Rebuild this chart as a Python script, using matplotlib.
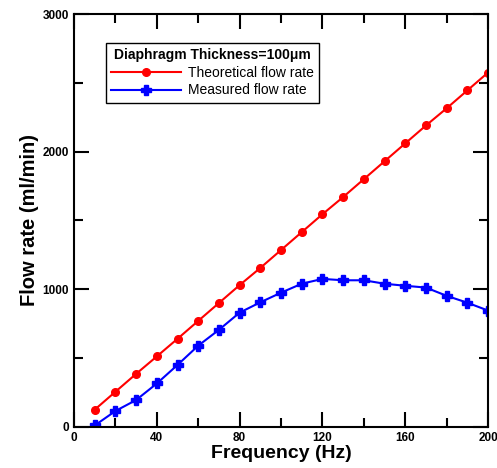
import matplotlib.pyplot as plt
from matplotlib.ticker import MultipleLocator

plt.rcParams['font.family'] = ['Liberation Sans', 'DejaVu Sans']

# data
freq = [10, 20, 30, 40, 50, 60, 70, 80, 90, 100,
        110, 120, 130, 140, 150, 160, 170, 180, 190, 200]
theoretical = [125, 255, 385, 512, 640, 770, 900, 1030, 1155, 1285,
               1415, 1545, 1670, 1800, 1930, 2060, 2190, 2315, 2445, 2575]
measured = [10, 115, 195, 315, 450, 590, 705, 830, 905, 975,
            1040, 1075, 1065, 1065, 1040, 1025, 1012, 952, 902, 845]

fig = plt.figure(figsize=(4.97, 4.68), dpi=100)
ax = fig.add_axes([0.149, 0.088, 0.833, 0.882])

ax.plot(freq, theoretical, color='red', marker='o', markersize=5.5,
        linewidth=1.5, label='Theoretical flow rate')
ax.plot(freq, measured, color='blue', marker='P', markersize=6.5,
        linewidth=1.5, label='Measured flow rate')

ax.set_xlim(0, 200)
ax.set_ylim(0, 3000)
ax.xaxis.set_major_locator(MultipleLocator(40))
ax.xaxis.set_minor_locator(MultipleLocator(20))
ax.yaxis.set_major_locator(MultipleLocator(1000))
ax.yaxis.set_minor_locator(MultipleLocator(500))
ax.tick_params(which='both', direction='in', top=True, right=True, width=1.5)
ax.tick_params(which='major', length=11, labelsize=8.5)
ax.tick_params(which='minor', length=6.5)
for lbl in ax.get_xticklabels() + ax.get_yticklabels():
    lbl.set_fontweight('bold')
for sp in ax.spines.values():
    sp.set_linewidth(1.5)

ax.set_xlabel('Frequency (Hz)', fontsize=14, fontweight='bold', labelpad=1)
ax.set_ylabel('Flow rate (ml/min)', fontsize=14.5, fontweight='bold', labelpad=3)

leg = ax.legend(title='Diaphragm Thickness=100\u03bcm', loc='upper left',
                bbox_to_anchor=(0.060, 0.947), fontsize=10, fancybox=False,
                edgecolor='black', framealpha=1, handlelength=5,
                borderpad=0.4, labelspacing=0.25, handletextpad=0.5)
leg.get_title().set_fontweight('bold')
leg.get_title().set_fontsize(10)
leg.get_frame().set_linewidth(1)

plt.savefig('out.png', dpi=100)
